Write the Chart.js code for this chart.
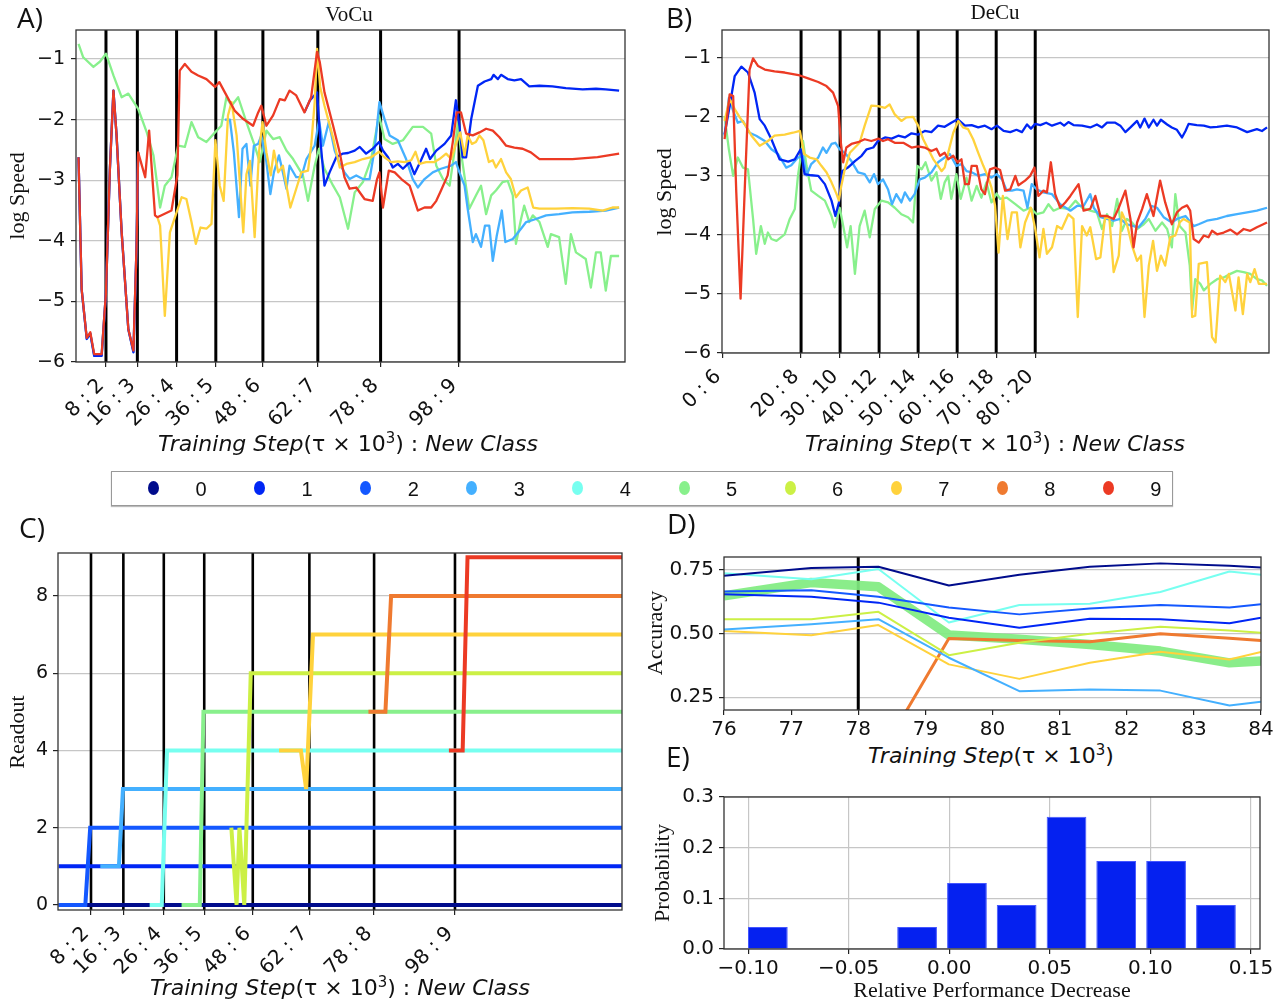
<!DOCTYPE html>
<html>
<head>
<meta charset="utf-8">
<script src="https://cdn.jsdelivr.net/npm/chart.js@4.4.1/dist/chart.umd.min.js"></script>
<style>
  body { margin: 0; width: 1280px; height: 1004px; background: #fff; position: relative; overflow: hidden; font-family: 'DejaVu Sans', sans-serif; color: #111; }
  canvas { position: absolute; }
  .t { position: absolute; white-space: nowrap; line-height: 1; }
  .panel { font-family: 'Open Sans', sans-serif; font-size: 28px; }
  .serif { font-family: 'Liberation Serif', serif; font-size: 22px; }
  .ctr { transform: translate(-50%, -50%); }
  .rot { transform: translate(-50%, -50%) rotate(-90deg); }
  .xt { font-family: 'DejaVu Sans', sans-serif; font-size: 22px; transform: translate(-50%, -50%); }
  .xt i { font-style: oblique; }
  .xt sup { font-size: 0.68em; vertical-align: 0.55em; line-height: 0; }
  #legend { position: absolute; left: 111px; top: 471px; width: 1060px; height: 33px; border: 1px solid #999; box-shadow: 0 1px 1px #bbb; }
  .dot { position: absolute; width: 11px; height: 14px; border-radius: 50%; }
  .lab { position: absolute; font-family: 'Liberation Sans Narrow', 'Liberation Sans', sans-serif; font-size: 20px; transform: translate(-50%, -50%); }
</style>
</head>
<body>
<canvas id="chartA" width="640" height="460" style="left:0;top:0"></canvas>
<canvas id="chartB" width="640" height="460" style="left:640px;top:0"></canvas>
<canvas id="chartC" width="640" height="494" style="left:0;top:510px"></canvas>
<canvas id="chartD" width="680" height="200" style="left:640px;top:540px"></canvas>
<canvas id="chartE" width="680" height="224" style="left:640px;top:780px"></canvas>

<div class="t panel" style="left:17px;top:3px">A)</div>
<div class="t panel" style="left:666px;top:3px">B)</div>
<div class="t panel" style="left:19px;top:513px">C)</div>
<div class="t panel" style="left:667px;top:509px">D)</div>
<div class="t panel" style="left:666px;top:742px">E)</div>

<div class="t serif ctr" style="left:349px;top:14px;font-size:21px">VoCu</div>
<div class="t serif ctr" style="left:995px;top:12px;font-size:21px">DeCu</div>

<div class="t serif rot" style="left:17px;top:196px">log Speed</div>
<div class="t serif rot" style="left:664px;top:192px">log Speed</div>
<div class="t serif rot" style="left:17px;top:732px">Readout</div>
<div class="t serif rot" style="left:655px;top:633px">Accuracy</div>
<div class="t serif rot" style="left:662px;top:873px">Probability</div>

<div class="t xt" style="left:348px;top:444px"><i>Training Step</i>(τ × 10<sup>3</sup>) : <i>New Class</i></div>
<div class="t xt" style="left:995px;top:444px"><i>Training Step</i>(τ × 10<sup>3</sup>) : <i>New Class</i></div>
<div class="t xt" style="left:340px;top:988px"><i>Training Step</i>(τ × 10<sup>3</sup>) : <i>New Class</i></div>
<div class="t xt" style="left:991px;top:756px"><i>Training Step</i>(τ × 10<sup>3</sup>)</div>
<div class="t serif ctr" style="left:992px;top:990px">Relative Performance Decrease</div>

<div id="legend"></div>

<script>
// class colours (jet-like), legend names
const classNames = ['0', '1', '2', '3', '4', '5', '6', '7', '8', '9'];
const classColors = ['#000c8c', '#0026f5', '#1458ff', '#44b0ff', '#77fff0', '#88f08c', '#ccf045', '#ffd23c', '#ef7a30', '#ec3a24'];

// x ticks: training step (k) : new class
const vocuTicks = [8, 16, 26, 36, 48, 62, 78, 98];
const vocuLabels = ['8 : 2', '16 : 3', '26 : 4', '36 : 5', '48 : 6', '62 : 7', '78 : 8', '98 : 9'];
const decuTicks = [0, 20, 30, 40, 50, 60, 70, 80];
const decuLabels = ['0 : 6', '20 : 8', '30 : 10', '40 : 12', '50 : 14', '60 : 16', '70 : 18', '80 : 20'];
const decuLines = [20, 30, 40, 50, 60, 70, 80];
const speedTicks = [-6, -5, -4, -3, -2, -1];
const readoutTicks = [0, 2, 4, 6, 8];

// panel A (VoCu) log speed, [step, value]
const vocuRed = [[1.0,-2.62],[1.8,-4.80],[3.1,-5.60],[4.0,-5.51],[5.0,-5.87],[6.9,-5.87],[8.0,-4.85],[9.0,-2.81],[9.9,-1.52],[10.7,-2.26],[12.0,-3.86],[13.7,-5.46],[15.0,-5.81],[15.8,-4.08],[16.2,-2.54],[18.0,-2.95],[19.0,-2.18],[20.5,-3.58],[21.1,-3.61],[24.7,-3.50],[26.2,-2.92],[26.8,-1.19],[28.1,-1.08],[29.8,-1.21],[31.5,-1.27],[33.6,-1.33],[35.8,-1.46],[36.9,-1.38],[38.3,-1.55],[40.8,-1.85],[43.0,-1.99],[45.5,-2.10],[46.8,-1.88],[47.6,-1.77],[48.9,-2.10],[50.6,-1.93],[52.3,-1.66],[53.6,-1.68],[54.8,-1.52],[56.5,-1.60],[58.6,-1.88],[60.3,-1.63],[61.8,-0.88],[62.5,-1.05],[63.7,-1.55],[65.9,-2.10],[67.6,-2.55],[68.8,-2.95],[70.1,-3.14],[71.8,-3.12],[73.9,-3.31],[76.0,-3.34],[77.1,-2.98],[77.7,-2.87],[78.6,-3.45],[80.1,-2.84],[81.6,-2.87],[83.3,-2.98],[85.4,-3.09],[87.5,-3.50],[89.2,-3.45],[90.9,-3.45],[92.2,-3.34],[93.4,-3.17],[95.1,-2.92],[96.4,-2.37],[97.4,-1.88],[98.5,-1.88],[99.8,-2.23],[101.5,-2.26],[103.2,-2.21],[104.9,-2.15],[106.6,-2.18],[108.3,-2.29],[110.0,-2.43],[112.1,-2.46],[114.2,-2.48],[116.3,-2.54],[118.5,-2.65],[120.6,-2.65],[126.9,-2.65],[133.3,-2.62],[138.8,-2.56]];
const vocuYellow = [[21.1,-3.61],[21.8,-3.75],[23.0,-5.24],[24.3,-3.86],[26.0,-3.53],[27.3,-3.28],[28.5,-3.31],[29.8,-3.69],[30.9,-4.05],[32.1,-3.78],[33.6,-3.80],[34.9,-3.72],[35.9,-2.34],[37.0,-3.09],[38.0,-3.34],[39.1,-1.93],[40.0,-1.71],[41.3,-2.26],[43.0,-3.86],[43.8,-2.90],[44.7,-2.68],[45.9,-3.94],[47.0,-2.54],[47.9,-2.04],[48.9,-2.54],[50.0,-2.92],[50.8,-2.51],[51.9,-2.87],[53.1,-2.76],[55.0,-3.45],[56.5,-3.14],[57.8,-2.87],[59.5,-2.84],[60.3,-2.43],[61.2,-1.71],[61.8,-0.83],[62.6,-1.46],[63.7,-1.77],[65.9,-2.30],[67.6,-2.79],[69.3,-2.73],[71.4,-2.70],[73.5,-2.65],[75.6,-2.62],[77.6,-2.53],[79.0,-2.62],[80.7,-2.70],[82.4,-2.69],[84.1,-2.70],[85.8,-2.67],[86.9,-2.53],[87.9,-2.73],[89.6,-2.70],[91.7,-2.70],[93.0,-2.65],[94.7,-2.56],[96.0,-2.65],[97.2,-2.40],[98.3,-2.21],[99.4,-2.59],[100.2,-2.26],[101.3,-2.40],[102.3,-2.37],[103.2,-2.26],[104.2,-2.34],[105.6,-2.70],[106.6,-2.67],[107.4,-2.79],[108.7,-2.65],[110.0,-2.87],[111.2,-2.98],[112.5,-3.28],[113.8,-3.17],[115.5,-3.12],[116.9,-3.45],[118.5,-3.47],[122.7,-3.47],[126.9,-3.46],[131.2,-3.47],[134.6,-3.50],[137.1,-3.45],[138.8,-3.45]];
const vocuBlue = [[1.0,-2.62],[1.8,-4.80],[3.1,-5.62],[4.0,-5.53],[5.0,-5.90],[6.9,-5.90],[8.0,-4.85],[9.0,-2.81],[9.9,-1.52],[10.7,-2.26],[12.0,-3.86],[13.7,-5.46],[15.0,-5.84],[15.8,-4.08],[16.2,-2.54],[17.0,null],[58.6,-1.88],[60.0,-1.68],[61.8,-1.55],[62.6,-2.30],[63.7,-3.09],[65.0,-2.87],[66.7,-2.62],[68.4,-2.56],[69.7,-2.55],[71.4,-2.51],[72.7,-2.45],[74.3,-2.56],[76.0,-2.48],[77.6,-2.37],[78.6,-2.51],[79.9,-2.62],[81.1,-2.79],[82.4,-2.73],[83.7,-2.81],[85.4,-2.70],[86.6,-2.90],[88.3,-2.67],[89.6,-2.48],[90.6,-2.65],[92.2,-2.51],[94.3,-2.40],[96.0,-2.26],[97.2,-1.68],[98.1,-2.10],[98.9,-2.62],[99.8,-2.62],[101.1,-1.99],[102.8,-1.44],[104.5,-1.37],[106.2,-1.33],[106.8,-1.26],[107.9,-1.33],[108.7,-1.26],[110.4,-1.33],[112.1,-1.35],[113.8,-1.33],[115.9,-1.45],[118.5,-1.44],[121.8,-1.45],[125.2,-1.48],[129.5,-1.50],[132.9,-1.49],[135.4,-1.50],[138.8,-1.52]];
const vocuLight = [[1.0,-2.62],[1.8,-4.80],[3.1,-5.62],[4.0,-5.53],[5.0,-5.89],[6.9,-5.89],[8.0,-4.85],[9.0,-2.81],[9.9,-1.52],[10.7,-2.26],[12.0,-3.86],[13.7,-5.46],[15.0,-5.83],[15.8,-4.08],[16.2,-2.54],[17.0,null],[38.3,-2.00],[39.6,-2.00],[40.6,-2.54],[41.9,-3.61],[42.8,-2.48],[43.8,-2.40],[44.8,-3.09],[45.7,-2.43],[46.8,-2.40],[47.6,-2.26],[48.9,-2.70],[49.9,-3.23],[50.8,-2.87],[52.1,-2.59],[53.1,-2.87],[54.0,-3.14],[54.8,-2.76],[56.5,-2.95],[57.8,-2.95],[59.1,-2.65],[61.2,-2.43],[62.3,-2.01],[63.3,-2.43],[64.8,-2.04],[66.3,-2.51],[67.6,-2.73],[68.8,-2.87],[70.1,-2.98],[71.8,-2.92],[73.5,-2.98],[75.2,-2.98],[76.5,-2.48],[77.7,-1.71],[79.0,-1.99],[80.3,-2.26],[82.4,-2.34],[84.5,-2.65],[86.2,-2.98],[87.5,-3.12],[89.2,-2.98],[91.3,-2.87],[93.4,-2.81],[96.0,-2.76],[97.2,-2.70],[98.1,-2.87],[99.4,-3.09],[100.2,-3.47],[101.5,-4.02],[102.3,-3.89],[103.6,-4.10],[104.6,-3.75],[105.7,-3.75],[106.6,-4.33],[107.6,-3.92],[108.9,-3.50],[109.8,-4.02],[111.7,-3.97],[113.8,-3.80],[115.1,-3.69],[117.6,-3.64],[120.2,-3.58],[123.5,-3.56],[126.9,-3.53],[131.2,-3.52],[135.4,-3.50],[138.8,-3.45]];
const vocuGreen = [[1.0,-0.75],[2.2,-0.97],[4.8,-1.13],[6.5,-1.04],[8.0,-0.91],[9.9,-1.27],[12.0,-1.63],[13.7,-1.57],[16.2,-1.82],[18.4,-2.21],[20.1,-2.59],[21.8,-3.45],[23.0,-3.09],[24.7,-2.95],[26.4,-2.43],[28.1,-2.45],[29.8,-2.04],[31.5,-2.29],[33.6,-2.37],[35.8,-2.21],[37.4,-2.10],[38.7,-1.63],[40.0,-1.77],[41.7,-1.63],[43.8,-2.04],[45.9,-2.43],[47.2,-2.70],[48.9,-2.18],[50.6,-2.32],[52.3,-2.29],[54.0,-2.51],[55.7,-2.65],[58.2,-2.92],[59.5,-3.34],[61.2,-2.76],[62.3,-2.48],[63.7,-2.81],[65.9,-3.09],[67.6,-3.28],[69.7,-3.80],[71.4,-3.20],[73.5,-3.03],[75.6,-2.65],[77.6,-1.93],[79.0,-2.32],[81.1,-2.40],[83.7,-2.34],[86.2,-2.12],[88.8,-2.12],[90.9,-2.23],[92.2,-2.76],[93.9,-2.98],[95.6,-3.09],[96.8,-2.54],[97.7,-2.04],[98.5,-2.54],[100.6,-3.47],[102.3,-3.25],[103.6,-3.09],[104.9,-3.56],[106.2,-3.25],[107.4,-3.17],[109.1,-3.03],[110.4,-3.01],[111.7,-3.25],[112.5,-4.05],[113.8,-3.64],[114.6,-3.42],[115.9,-3.69],[116.8,-3.58],[118.5,-3.69],[120.6,-4.10],[121.4,-3.89],[123.5,-3.94],[125.2,-4.71],[126.5,-3.89],[127.8,-4.19],[130.3,-4.30],[131.6,-4.77],[132.9,-4.19],[134.1,-4.19],[135.4,-4.82],[136.7,-4.25],[138.8,-4.25]];

// panel B (DeCu) log speed
const decuRed = [[0.4,-2.38],[1.7,-1.62],[2.6,-1.65],[3.4,-3.28],[4.5,-5.08],[5.6,-3.17],[6.8,-1.20],[7.7,-1.01],[9.0,-1.14],[10.7,-1.20],[13.2,-1.23],[15.8,-1.25],[19.7,-1.30],[21.8,-1.35],[24.4,-1.41],[26.5,-1.48],[28.2,-1.59],[29.5,-1.82],[30.2,-2.44],[30.8,-2.77],[31.6,-2.52],[32.9,-2.46],[34.6,-2.43],[36.3,-2.38],[38.0,-2.41],[39.9,-2.37],[41.0,-2.41],[42.3,-2.38],[44.0,-2.44],[46.2,-2.44],[48.3,-2.52],[50.0,-2.50],[51.7,-2.52],[53.4,-2.58],[54.7,-2.54],[55.6,-2.66],[56.8,-2.61],[57.7,-2.72],[59.0,-2.66],[60.1,-2.77],[61.1,-2.72],[62.0,-3.14],[63.0,-3.14],[63.7,-2.83],[65.0,-2.83],[66.2,-3.23],[67.1,-3.31],[68.4,-2.89],[69.7,-2.86],[71.0,-2.90],[72.3,-3.25],[73.6,-3.23],[74.9,-3.00],[75.7,-3.16],[77.4,-3.08],[78.7,-3.00],[79.8,-2.86],[80.8,-3.34],[82.1,-3.25],[83.0,-3.28],[84.0,-2.77],[85.1,-3.31],[86.4,-3.54],[87.7,-3.45],[89.0,-3.34],[91.1,-3.14],[92.4,-3.59],[94.1,-3.56],[95.4,-3.34],[96.7,-3.68],[98.4,-3.68],[100.1,-3.73],[101.4,-3.54],[103.1,-3.25],[104.4,-3.73],[105.2,-4.21],[106.1,-3.79],[107.4,-3.56],[108.6,-3.31],[110.3,-3.68],[112.0,-3.08],[113.3,-3.45],[115.0,-3.82],[116.3,-3.62],[117.6,-3.54],[118.9,-3.50],[119.7,-3.59],[120.6,-4.07],[121.9,-4.13],[123.2,-4.01],[124.4,-4.04],[125.3,-3.93],[126.6,-3.99],[128.3,-3.96],[130.0,-3.91],[131.7,-3.99],[133.4,-3.90],[135.1,-3.93],[136.8,-3.87],[139.4,-3.79]];
const decuYellow = [[0.4,-2.07],[1.7,-1.70],[3.0,-1.87],[4.3,-2.01],[5.6,-2.13],[7.3,-2.32],[9.4,-2.49],[11.5,-2.41],[13.2,-2.32],[15.8,-2.30],[17.9,-2.27],[19.7,-2.24],[20.8,-2.63],[22.2,-2.69],[24.0,-2.72],[25.2,-2.83],[26.5,-2.94],[27.8,-3.11],[29.1,-3.31],[29.7,-3.42],[30.3,-3.17],[31.2,-2.89],[32.5,-2.61],[33.8,-2.52],[35.0,-2.44],[36.3,-2.15],[38.0,-1.81],[39.7,-1.82],[41.5,-1.85],[42.7,-1.79],[44.0,-1.96],[45.7,-2.07],[47.0,-2.01],[48.7,-2.00],[50.0,-2.15],[51.3,-2.38],[52.6,-2.55],[53.9,-2.72],[55.1,-2.83],[56.0,-2.92],[56.8,-2.86],[57.7,-2.61],[59.0,-2.27],[60.3,-2.07],[61.5,-2.18],[62.8,-2.21],[64.1,-2.38],[65.4,-2.61],[66.7,-2.83],[67.8,-3.00],[68.8,-3.20],[69.7,-3.50],[70.6,-4.30],[71.7,-3.34],[72.9,-4.07],[74.0,-3.62],[75.3,-3.62],[76.2,-4.21],[77.4,-3.79],[78.9,-3.54],[80.0,-3.90],[81.1,-4.38],[82.1,-3.90],[83.0,-4.32],[84.3,-4.21],[85.6,-3.85],[86.8,-3.90],[88.5,-3.65],[89.8,-3.73],[90.9,-5.39],[92.0,-3.85],[93.2,-4.01],[94.1,-3.87],[95.6,-4.41],[96.7,-4.38],[97.9,-3.70],[99.0,-3.72],[100.1,-4.63],[101.4,-4.35],[102.2,-3.62],[103.5,-3.82],[104.8,-4.18],[106.1,-4.44],[107.1,-4.35],[108.0,-5.39],[109.1,-4.52],[110.2,-4.10],[111.2,-4.61],[112.2,-4.35],[113.3,-4.52],[114.6,-4.04],[115.9,-4.01],[117.0,-3.79],[118.0,-3.73],[119.6,-3.79],[120.2,-5.39],[121.0,-5.37],[121.9,-4.49],[124.0,-4.46],[125.3,-5.73],[126.2,-5.82],[127.4,-4.69],[128.7,-4.80],[129.6,-4.66],[131.3,-5.28],[132.1,-4.72],[133.2,-5.34],[134.3,-4.66],[135.1,-4.80],[136.2,-4.58],[137.3,-4.83],[138.5,-4.83],[139.4,-4.83]];
const decuBlue = [[0.4,-2.30],[1.7,-1.82],[3.0,-1.31],[4.7,-1.15],[6.4,-1.25],[8.1,-1.59],[9.4,-2.04],[10.7,-2.15],[12.4,-2.38],[14.5,-2.72],[16.7,-2.76],[18.4,-2.72],[19.9,-2.55],[20.9,-2.97],[22.6,-2.99],[24.4,-3.00],[26.1,-3.14],[27.8,-3.42],[28.8,-3.68],[29.7,-3.45],[30.5,-2.92],[32.0,-2.86],[33.8,-2.75],[35.5,-2.66],[36.8,-2.55],[38.5,-2.52],[39.7,-2.41],[41.5,-2.35],[43.2,-2.37],[44.9,-2.32],[46.6,-2.35],[48.3,-2.28],[50.0,-2.30],[51.7,-2.24],[53.4,-2.26],[55.1,-2.15],[56.8,-2.17],[58.5,-2.10],[60.1,-2.04],[62.0,-2.15],[63.7,-2.14],[65.4,-2.18],[67.1,-2.15],[68.8,-2.21],[70.2,-2.15],[71.9,-2.24],[73.6,-2.26],[75.2,-2.22],[76.6,-2.26],[77.9,-2.13],[78.9,-2.20],[80.0,-2.12],[81.3,-2.14],[82.8,-2.10],[84.3,-2.15],[86.4,-2.10],[87.4,-2.15],[88.5,-2.09],[89.8,-2.14],[92.0,-2.15],[94.1,-2.18],[95.8,-2.13],[97.1,-2.18],[98.4,-2.10],[100.5,-2.10],[101.8,-2.15],[103.1,-2.26],[104.4,-2.18],[106.1,-2.07],[106.9,-2.18],[108.0,-2.03],[109.1,-2.18],[110.3,-2.05],[111.2,-2.15],[112.2,-2.05],[113.8,-2.13],[115.0,-2.18],[116.3,-2.22],[117.6,-2.35],[118.5,-2.24],[119.3,-2.12],[121.4,-2.14],[123.2,-2.15],[124.9,-2.18],[126.6,-2.17],[129.1,-2.15],[131.7,-2.18],[134.3,-2.26],[136.8,-2.21],[138.1,-2.24],[139.4,-2.18]];
const decuLight = [[0.4,-2.32],[1.5,-1.68],[2.6,-1.90],[3.8,-2.10],[5.1,-2.07],[6.8,-2.27],[8.5,-2.32],[10.7,-2.41],[12.4,-2.55],[14.1,-2.63],[16.2,-2.86],[17.5,-2.82],[19.2,-2.69],[20.5,-2.66],[21.4,-2.99],[22.6,-2.80],[24.4,-2.69],[25.6,-2.52],[26.5,-2.61],[27.8,-2.46],[28.8,-2.44],[29.9,-2.55],[31.2,-2.61],[32.9,-2.75],[34.6,-2.94],[36.3,-2.97],[37.6,-3.11],[38.7,-2.97],[39.7,-3.14],[41.0,-3.06],[42.3,-3.23],[43.3,-3.48],[44.4,-3.31],[45.7,-3.45],[46.6,-3.28],[47.9,-3.42],[49.1,-3.31],[50.4,-3.06],[51.7,-3.03],[53.4,-2.94],[55.1,-2.77],[56.8,-2.69],[58.1,-2.63],[59.8,-2.83],[61.1,-2.80],[62.4,-2.92],[63.7,-2.94],[65.4,-3.00],[67.1,-2.97],[68.8,-3.03],[70.1,-2.97],[71.5,-3.06],[72.7,-3.25],[74.0,-3.25],[75.3,-3.23],[77.0,-3.25],[78.0,-3.54],[79.1,-3.14],[80.4,-3.23],[82.1,-3.28],[84.3,-3.31],[86.4,-3.48],[89.0,-3.59],[90.7,-3.51],[92.4,-3.51],[94.1,-3.31],[95.0,-3.54],[96.7,-3.70],[98.4,-3.73],[100.1,-3.76],[101.8,-3.73],[103.5,-3.82],[105.2,-3.85],[106.5,-3.87],[108.2,-3.73],[109.9,-3.51],[111.2,-3.54],[112.9,-3.70],[115.0,-3.79],[116.3,-3.73],[118.5,-3.68],[120.6,-3.85],[121.9,-3.82],[124.0,-3.76],[126.6,-3.73],[129.1,-3.68],[131.7,-3.65],[134.3,-3.62],[136.8,-3.59],[139.4,-3.54]];
const decuGreen = [[0.4,-1.99],[1.5,-2.55],[2.6,-3.00],[3.8,-2.69],[5.1,-2.86],[6.4,-2.89],[7.7,-3.73],[8.5,-4.32],[9.7,-3.85],[10.7,-4.15],[11.5,-3.96],[12.4,-4.07],[13.7,-4.10],[15.8,-3.99],[17.1,-3.73],[18.4,-3.56],[19.2,-3.00],[20.5,-2.41],[21.4,-2.83],[22.6,-3.25],[24.4,-3.34],[26.1,-3.42],[27.8,-3.68],[28.6,-3.87],[29.9,-3.54],[30.8,-3.85],[31.8,-4.21],[32.7,-3.85],[33.8,-4.66],[35.0,-3.85],[36.3,-3.59],[37.6,-4.04],[38.9,-3.56],[40.6,-3.42],[42.3,-3.45],[44.0,-3.54],[45.7,-3.65],[47.4,-3.70],[48.7,-3.79],[49.8,-2.83],[50.9,-2.89],[51.9,-2.77],[53.4,-3.08],[54.7,-2.94],[55.8,-3.39],[56.8,-3.11],[57.7,-3.00],[58.5,-3.39],[59.8,-2.97],[60.9,-3.39],[62.4,-3.03],[63.7,-3.42],[65.0,-3.17],[66.2,-3.37],[67.5,-3.11],[68.8,-3.45],[70.1,-3.30],[71.0,-3.39],[72.7,-3.37],[74.9,-3.48],[77.0,-3.59],[78.7,-3.54],[80.4,-3.65],[82.1,-3.62],[83.4,-3.48],[84.7,-3.59],[86.4,-3.54],[88.5,-3.56],[90.3,-3.42],[92.0,-3.54],[94.1,-3.59],[95.8,-3.62],[97.1,-3.90],[98.4,-3.65],[99.7,-3.85],[101.0,-3.39],[102.2,-3.93],[103.5,-3.73],[104.8,-3.79],[106.1,-3.90],[107.8,-3.82],[109.1,-3.73],[110.8,-3.93],[112.5,-3.79],[113.8,-3.90],[115.0,-4.21],[115.9,-3.31],[117.0,-3.85],[118.5,-3.96],[119.6,-4.52],[120.2,-5.28],[121.0,-4.75],[122.3,-4.83],[123.2,-4.94],[124.9,-4.83],[126.6,-4.75],[128.3,-4.72],[130.0,-4.66],[131.7,-4.61],[133.4,-4.63],[135.1,-4.66],[136.8,-4.75],[138.1,-4.77],[139.4,-4.86]];

// panel C readout per class
const readout0 = [[0,0],[139.3,0]];
const readout1 = [[0,1],[139.3,1]];
const readout2 = [[0,0],[6.6,0],[7.8,2],[139.3,2]];
const readout3 = [[10.3,1],[14.9,1],[15.9,3],[139.3,3]];
const readout4 = [[22.5,0],[25.5,0],[26.8,4],[139.3,4]];
const readout5 = [[30.4,0],[34.9,0],[35.8,5],[139.3,5]];
const readout6 = [[42.7,2],[44.0,0],[44.7,2],[45.9,0],[47.5,6],[139.3,6]];
const readout7 = [[54.5,4],[59.9,4],[61.2,3],[62.9,7],[139.3,7]];
const readout8 = [[76.6,5],[80.8,5],[82.2,8],[139.3,8]];
const readout9 = [[96.5,4],[99.9,4],[101.1,9],[139.3,9]];

// panel D accuracy around step 78
const accSteps = [76.0, 77.3, 78.3, 79.35, 80.4, 81.45, 82.5, 83.53, 84.0];
const acc0 = [0.726, 0.757, 0.762, 0.688, 0.730, 0.762, 0.775, 0.766, 0.759];
const acc1 = [0.654, 0.644, 0.621, 0.562, 0.523, 0.558, 0.556, 0.540, 0.562];
const acc2 = [0.665, 0.670, 0.644, 0.602, 0.575, 0.598, 0.612, 0.602, 0.615];
const acc3 = [0.516, 0.536, 0.556, 0.405, 0.274, 0.280, 0.276, 0.218, 0.232];
const acc4 = [0.736, 0.713, 0.753, 0.543, 0.612, 0.617, 0.663, 0.743, 0.730];
const acc5 = [0.648, 0.700, 0.683, 0.494, 0.477, 0.457, 0.431, 0.385, 0.392];
const acc6 = [0.556, 0.556, 0.585, 0.415, 0.464, 0.499, 0.526, 0.512, 0.503];
const acc7 = [0.510, 0.493, 0.533, 0.379, 0.322, 0.385, 0.428, 0.398, 0.428];
const acc8 = [0.0, 0.0, 0.01, 0.480, 0.473, 0.468, 0.499, 0.481, 0.473];
const accTicks = [0.25, 0.5, 0.75];
const accStepTicks = [76, 77, 78, 79, 80, 81, 82, 83, 84];

// panel E histogram
const decreaseBins = [-0.0902, -0.0655, -0.0407, -0.0160, 0.0088, 0.0335, 0.0583, 0.0830, 0.1078, 0.1326];
const probability = [0.0435, 0, 0, 0.0435, 0.1304, 0.0870, 0.2609, 0.1739, 0.1739, 0.0870];
const decreaseTicks = [-0.10, -0.05, 0.00, 0.05, 0.10, 0.15];
const probTicks = [0.0, 0.1, 0.2, 0.3];

Chart.defaults.font.family = "'DejaVu Sans', sans-serif";
Chart.defaults.color = '#111';
Chart.defaults.animation = false;

// black vertical lines at the class-introduction steps
const vlinePlugin = {
  id: 'vlines',
  beforeDatasetsDraw(chart, args, opts) {
    if (!opts.at) return;
    const { ctx, chartArea: a, scales: { x } } = chart;
    ctx.save();
    ctx.strokeStyle = '#000';
    ctx.lineWidth = opts.width || 3;
    opts.at.forEach(v => {
      const px = x.getPixelForValue(v);
      ctx.beginPath();
      ctx.moveTo(px, a.top);
      ctx.lineTo(px, a.bottom);
      ctx.stroke();
    });
    ctx.restore();
  }
};
// matplotlib-like frame round the plot area
const framePlugin = {
  id: 'frame',
  afterDatasetsDraw(chart) {
    const { ctx, chartArea: a } = chart;
    ctx.save();
    ctx.strokeStyle = '#333';
    ctx.lineWidth = 1.3;
    ctx.strokeRect(a.left, a.top, a.right - a.left, a.bottom - a.top);
    ctx.restore();
  }
};
Chart.register(vlinePlugin, framePlugin);

const pts = arr => arr.map(p => ({ x: p[0], y: p[1] }));
const zipPts = (xs, ys) => xs.map((x, i) => ({ x, y: ys[i] }));
const minus = (s, v) => (v < 0 ? '\u2212' : '') + s.replace('-', '');

function line(data, color, width) {
  return { data, borderColor: color, borderWidth: width, pointRadius: 0, tension: 0, fill: false,
           borderJoinStyle: 'round', spanGaps: false };
}

function scale(min, max, ticks, labelFn, o) {
  return {
    type: 'linear', min, max, bounds: 'data', offset: false,
    afterBuildTicks: s => { s.ticks = ticks.map(v => ({ value: v })); },
    afterFit: s => { if (o.w) s.width = o.w; if (o.h) s.height = o.h; },
    ticks: { callback: labelFn, autoSkip: false, color: '#111', font: { size: o.size || 17 },
             padding: o.pad == null ? 4 : o.pad, labelOffset: o.shift || 0,
             minRotation: o.rot || 0, maxRotation: o.rot || 0 },
    grid: { display: true, offset: false, drawOnChartArea: !!o.grid, color: '#c6c6c6', lineWidth: 1.2,
            tickColor: '#222', tickLength: 5 },
    border: { display: false }
  };
}

function baseOptions(pad, xs, ys, vlines) {
  return {
    responsive: false,
    layout: { padding: pad },
    plugins: { legend: { display: false }, tooltip: { enabled: false }, vlines: vlines || {} },
    scales: { x: xs, y: ys }
  };
}

const stepAxis = { rot: 45, size: 20, pad: 7, shift: -5 };

// A) VoCu
new Chart(document.getElementById('chartA'), {
  type: 'line',
  data: { datasets: [
    line(pts(vocuRed), classColors[9], 2.3),
    line(pts(vocuYellow), classColors[7], 2.3),
    line(pts(vocuBlue), classColors[1], 2.3),
    line(pts(vocuLight), classColors[3], 2.3),
    line(pts(vocuGreen), classColors[5], 2.3)
  ] },
  options: baseOptions({ top: 30, right: 15, left: 0, bottom: 0 },
    scale(0.36, 140.3, vocuTicks, (v, i) => vocuLabels[i], Object.assign({ h: 98 }, stepAxis)),
    scale(-6, -0.52, speedTicks, v => minus(String(v), v), { w: 76, grid: true, size: 19, pad: 6 }),
    { at: vocuTicks, width: 3 })
});

// B) DeCu
new Chart(document.getElementById('chartB'), {
  type: 'line',
  data: { datasets: [
    line(pts(decuRed), classColors[9], 2.3),
    line(pts(decuYellow), classColors[7], 2.3),
    line(pts(decuBlue), classColors[1], 2.3),
    line(pts(decuLight), classColors[3], 2.3),
    line(pts(decuGreen), classColors[5], 2.3)
  ] },
  options: baseOptions({ top: 30, right: 11, left: 0, bottom: 0 },
    scale(-0.26, 139.9, decuTicks, (v, i) => decuLabels[i], Object.assign({ h: 107 }, stepAxis)),
    scale(-6, -0.53, speedTicks, v => minus(String(v), v), { w: 82, grid: true, size: 19, pad: 6 }),
    { at: decuLines, width: 3 })
});

// C) readout
const readouts = [readout0, readout1, readout2, readout3, readout4, readout5, readout6, readout7, readout8, readout9];
new Chart(document.getElementById('chartC'), {
  type: 'line',
  data: { datasets: readouts.map((r, c) => Object.assign(line(pts(r), classColors[c], 4),
    { order: 9 - c, borderJoinStyle: 'miter', label: classNames[c] })) },
  options: baseOptions({ top: 43, right: 18, left: 0, bottom: 0 },
    scale(-0.16, 139.3, vocuTicks, (v, i) => vocuLabels[i], Object.assign({ h: 94 }, stepAxis)),
    scale(-0.13, 9.11, readoutTicks, v => String(v), { w: 58, grid: true, size: 19, pad: 5 }),
    { at: vocuTicks, width: 2.6 })
});

// D) accuracy
const accs = [acc0, acc1, acc2, acc3, acc4, acc6, acc7, acc8];
const accClasses = [0, 1, 2, 3, 4, 6, 7, 8];
const dSets = accs.map((a, k) => line(zipPts(accSteps, a), classColors[accClasses[k]], accClasses[k] === 8 ? 3 : 2));
dSets.push(Object.assign(line(zipPts(accSteps, acc5), 'rgba(128,236,128,0.92)', 9.5), { borderCapStyle: 'butt' }));
new Chart(document.getElementById('chartD'), {
  type: 'line',
  data: { datasets: dSets },
  options: baseOptions({ top: 15, right: 59, left: 0, bottom: 0 },
    scale(76, 84, accStepTicks, v => String(v), { h: 30, size: 20, pad: 3 }),
    scale(0.2, 0.8, accTicks, v => v.toFixed(2), { w: 84, grid: true, size: 20, pad: 5 }),
    { at: [78], width: 3 })
});

// E) histogram
new Chart(document.getElementById('chartE'), {
  type: 'bar',
  data: { datasets: [{
    data: zipPts(decreaseBins, probability),
    backgroundColor: '#0521f0', borderColor: '#4456ff', borderWidth: 1,
    barPercentage: 0.8, categoryPercentage: 1.0
  }] },
  options: baseOptions({ top: 17, right: 60, left: 0, bottom: 0 },
    scale(-0.112, 0.1545, decreaseTicks, v => minus(v.toFixed(2), v), { h: 55, grid: true, size: 20, pad: 3 }),
    scale(0, 0.3, probTicks, v => v.toFixed(1), { w: 84, grid: true, size: 20, pad: 5 }))
});

// legend strip
const legend = document.getElementById('legend');
classNames.forEach((name, i) => {
  const dot = document.createElement('div');
  dot.className = 'dot';
  dot.style.background = classColors[i];
  dot.style.left = (36 + 106.1 * i) + 'px';
  dot.style.top = '9px';
  legend.appendChild(dot);
  const lab = document.createElement('div');
  lab.className = 'lab';
  lab.textContent = name;
  lab.style.left = (89 + 106.1 * i) + 'px';
  lab.style.top = '17px';
  legend.appendChild(lab);
});
</script>
</body>
</html>
